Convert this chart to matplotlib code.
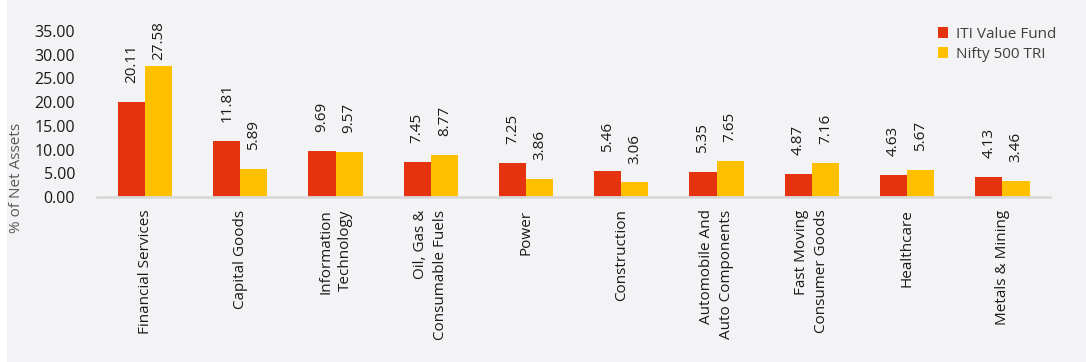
import matplotlib.pyplot as plt
import numpy as np
from matplotlib.patches import Rectangle

plt.rcParams['font.family'] = ['Open Sans', 'DejaVu Sans']

sectors = ['Financial Services', 'Capital Goods', 'Information\nTechnology',
           'Oil, Gas &\nConsumable Fuels', 'Power', 'Construction',
           'Automobile And\nAuto Components', 'Fast Moving\nConsumer Goods',
           'Healthcare', 'Metals & Mining']
iti_value = [20.11, 11.81, 9.69, 7.45, 7.25, 5.46, 5.35, 4.87, 4.63, 4.13]
nifty_500 = [27.58, 5.89, 9.57, 8.77, 3.86, 3.06, 7.65, 7.16, 5.67, 3.46]
y_ticks = [0, 5, 10, 15, 20, 25, 30, 35]

red = '#E5320F'
gold = '#FFC000'
bg = '#F3F2F5'

fig = plt.figure(figsize=(10.86, 3.62), dpi=100, facecolor=bg)
# white strip on the left edge
fig.patches.append(Rectangle((0, 0), 7 / 1086, 1, transform=fig.transFigure,
                             facecolor='white', edgecolor='none', zorder=-1))
ax = fig.add_axes([97.4 / 1086, 165 / 362, 952.6 / 1086, 166 / 362])
ax.set_facecolor(bg)

x = np.arange(len(sectors))
w = 0.285
b1 = ax.bar(x - w / 2, iti_value, w, color=red, label='ITI Value Fund')
b2 = ax.bar(x + w / 2, nifty_500, w, color=gold, label='Nifty 500 TRI')

for bars, vals in [(b1, iti_value), (b2, nifty_500)]:
    for bar, v in zip(bars, vals):
        ypos = min(v + 4.0, 28.9)
        ax.text(bar.get_x() + bar.get_width() / 2, ypos, f'{v:.2f}',
                rotation=90, ha='center', va='bottom', fontsize=11, color='#1a1a1a')

ax.set_xlim(-0.5, len(sectors) - 0.5)
ax.set_ylim(0, 35)
ax.set_yticks(y_ticks)
ax.set_yticklabels([f'{t:.2f}' for t in y_ticks], fontsize=11.5, color='#1a1a1a')
ax.set_xticks(x)
ax.set_xticklabels(sectors, rotation=90, fontsize=11, color='#1a1a1a',
                   va='top', ha='center', multialignment='right', linespacing=1.45)
ax.tick_params(axis='both', length=0)
ax.tick_params(axis='x', pad=9)
ax.tick_params(axis='y', pad=16)

for s in ['top', 'right', 'left']:
    ax.spines[s].set_visible(False)
ax.spines['bottom'].set_color('#D9D9D9')
ax.spines['bottom'].set_linewidth(2)

fig.text(17 / 1086, 1 - 178 / 362, '% of Net Assets', rotation=90, ha='center',
         va='center', fontsize=11, color='#595959')

fig.legend(loc='upper left', bbox_to_anchor=(924 / 1086, 1 - 13 / 362),
           frameon=False, fontsize=11, handlelength=0.7, handleheight=0.7,
           handletextpad=0.5, labelspacing=0.35, labelcolor='#404040')

fig.savefig('out.png', dpi=100, facecolor=bg)
